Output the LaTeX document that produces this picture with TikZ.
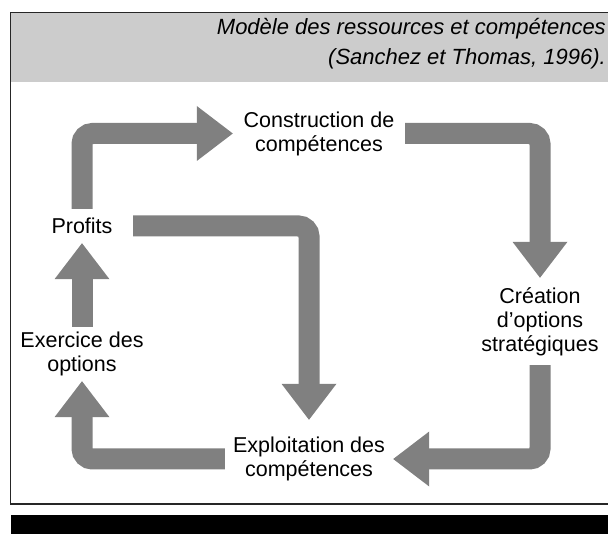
\documentclass[tikz,border=0pt]{standalone}
\usepackage{fontspec}
\setmainfont{Liberation Sans}
\usetikzlibrary{arrows.meta}
\definecolor{flowgray}{RGB}{128,128,128}
\definecolor{headgray}{RGB}{204,204,204}

\begin{document}
\begin{tikzpicture}[x=1pt,y=-1pt,
		stage/.style={align=center,inner sep=0pt,font=\fontsize{21.5}{24}\selectfont},
		flow/.style={line width=21pt,draw=flowgray,rounded corners=10.5pt,-{Triangle[width=55pt,length=36pt,line width=0pt]}}]
			\useasboundingbox (0,0) rectangle (608,534);
			\fill [headgray] (10.5,12.5) rectangle (620,82);
			\draw [line width=1.5pt, black!85] (620,12.5) -- (10.5,12.5) -- (10.5,504) -- (620,504);
			\fill [black] (11,515) rectangle (620,534);
			\node [anchor=north east, align=right, inner sep=0pt, font=\itshape\fontsize{22}{30}\selectfont] (title) at (606,18) {Modèle des ressources et compétences\\(Sanchez et Thomas, 1996).};

			\node [stage, minimum width=102pt, minimum height=34pt] (profits) at (82,226) {Profits};
			\node [stage, minimum width=172pt] (constr) at (319,133.5) {Construction de\\compétences};
			\node [stage, minimum height=87pt] (creat) at (540,321.5) {Création\\d’options\\stratégiques};
			\node [stage, minimum width=168pt, minimum height=78pt] (exploit) at (309,459) {Exploitation des\\compétences};
			\node [stage, minimum height=54pt] (exerc) at (82,354) {Exercice des\\options};

			\draw [flow] (profits.north) |- (constr.west);
			\draw [flow] (constr.east) -| (creat.north);
			\draw [flow] (creat.south) |- (exploit.east);
			\draw [flow] (exploit.west) -| (exerc.south);
			\draw [flow] (exerc.north) -- (profits.south);
			\draw [flow] (profits.east) -| (exploit.north);
		\end{tikzpicture}
\end{document}
